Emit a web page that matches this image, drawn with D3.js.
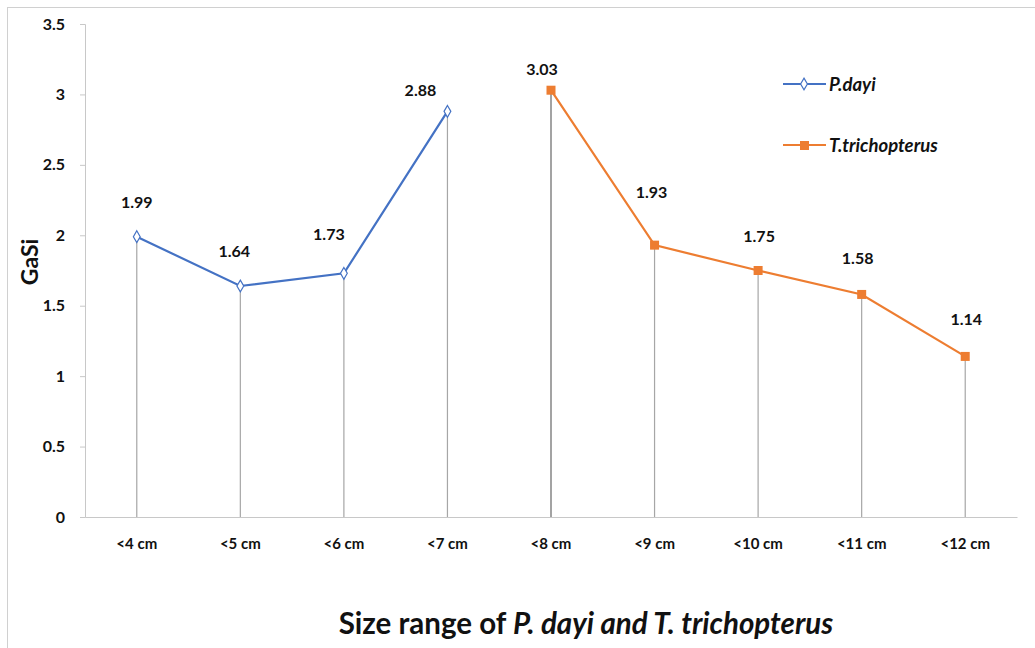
<!DOCTYPE html>
<html><head><meta charset="utf-8">
<script src="https://cdn.jsdelivr.net/npm/d3@7"></script>
<style>body{margin:0;background:#fff}text{font-family:Lato,"Open Sans",sans-serif}</style>
</head><body>
<svg id="c" width="1035" height="648"></svg>
<script>
const categories = ["<4 cm","<5 cm","<6 cm","<7 cm","<8 cm","<9 cm","<10 cm","<11 cm","<12 cm"];
const pdayiCats = ["<4 cm","<5 cm","<6 cm","<7 cm"];
const pdayiValues = [1.99,1.64,1.73,2.88];
const trichCats = ["<8 cm","<9 cm","<10 cm","<11 cm","<12 cm"];
const trichValues = [3.03,1.93,1.75,1.58,1.14];
const yTicks = [0,0.5,1,1.5,2,2.5,3,3.5];
// label nudges (px) for data labels
const pdayiLabelDx = [0,-6,-15,-27];
const pdayiLabelDy = [-29,-29,-33,-15];
const trichLabelDx = [-9,-3,1,-4,1];
const trichLabelDy = [-15,-47,-29,-30,-31];

const svg = d3.select("#c");
svg.append("rect").attr("x",7.5).attr("y",7.5).attr("width",1040).attr("height",660)
  .attr("fill","none").attr("stroke","#d0d0d0");

const m = {l:85, r:1017, t:24, b:517};
const x = d3.scaleBand().domain(categories).range([m.l,m.r]);
const y = d3.scaleLinear().domain([0,3.5]).range([m.b,m.t]);
const cx = c => x(c)+x.bandwidth()/2;

// y axis
const ya = svg.append("g").attr("transform",`translate(${m.l},0)`)
  .call(d3.axisLeft(y).tickValues(yTicks).tickSize(5).tickPadding(15).tickFormat(d=>d));
ya.select(".domain").attr("stroke","#c8c8c8");
ya.selectAll(".tick line").attr("stroke","#c8c8c8");
ya.selectAll(".tick text").attr("font-size",16).attr("font-weight","bold").attr("fill","#111")
  .style("font-family","Lato,sans-serif");

// x axis
const xa = svg.append("g").attr("transform",`translate(0,${m.b})`)
  .call(d3.axisBottom(x).tickSize(0).tickPadding(21));
xa.select(".domain").attr("stroke","#c8c8c8");
xa.selectAll(".tick text").attr("font-size",15).attr("font-weight","bold").attr("fill","#111")
  .style("font-family","Lato,sans-serif");

// drop lines
const allPts = pdayiCats.map((c,i)=>({c,v:pdayiValues[i]})).concat(trichCats.map((c,i)=>({c,v:trichValues[i]})));
svg.append("g").selectAll("line").data(allPts).join("line")
  .attr("x1",d=>cx(d.c)).attr("x2",d=>cx(d.c)).attr("y1",d=>y(d.v)).attr("y2",y(0))
  .attr("stroke",(d,i)=>i===4?"#666":"#a6a6a6").attr("stroke-width",1.2);

const line = d3.line().x(d=>cx(d.c)).y(d=>y(d.v));
const blue = "#4472C4", orange = "#ED7D31";
const pd = pdayiCats.map((c,i)=>({c,v:pdayiValues[i]}));
const tr = trichCats.map((c,i)=>({c,v:trichValues[i]}));
svg.append("path").datum(pd).attr("d",line).attr("fill","none").attr("stroke",blue).attr("stroke-width",2.2);
svg.append("path").datum(tr).attr("d",line).attr("fill","none").attr("stroke",orange).attr("stroke-width",2.2);

const diamond = d3.symbol().type(d3.symbolDiamond).size(40);
svg.append("g").selectAll("path").data(pd).join("path")
  .attr("d",diamond).attr("transform",d=>`translate(${cx(d.c)},${y(d.v)})`)
  .attr("fill","#fff").attr("stroke",blue).attr("stroke-width",1.2);
svg.append("g").selectAll("rect").data(tr).join("rect")
  .attr("x",d=>cx(d.c)-4.5).attr("y",d=>y(d.v)-4.5).attr("width",9).attr("height",9)
  .attr("fill",orange);

// data labels
svg.append("g").selectAll("text").data(pd).join("text")
  .attr("x",(d,i)=>cx(d.c)+pdayiLabelDx[i]).attr("y",(d,i)=>y(d.v)+pdayiLabelDy[i])
  .attr("text-anchor","middle").attr("font-size",16).attr("font-weight","bold").attr("fill","#111")
  .text(d=>d.v.toFixed(2));
svg.append("g").selectAll("text").data(tr).join("text")
  .attr("x",(d,i)=>cx(d.c)+trichLabelDx[i]).attr("y",(d,i)=>y(d.v)+trichLabelDy[i])
  .attr("text-anchor","middle").attr("font-size",16).attr("font-weight","bold").attr("fill","#111")
  .text(d=>d.v.toFixed(2));

// legend
const lg = svg.append("g");
lg.append("line").attr("x1",783).attr("x2",826).attr("y1",84).attr("y2",84).attr("stroke",blue).attr("stroke-width",2);
lg.append("path").attr("d",diamond).attr("transform","translate(804,84)").attr("fill","#fff").attr("stroke",blue).attr("stroke-width",1.2);
lg.append("text").attr("x",829).attr("y",90.5).attr("font-size",18.5).attr("font-weight","bold").attr("font-style","italic").attr("fill","#111").text("P.dayi");
lg.append("line").attr("x1",783).attr("x2",826).attr("y1",145).attr("y2",145).attr("stroke",orange).attr("stroke-width",2);
lg.append("rect").attr("x",800).attr("y",141).attr("width",9).attr("height",9).attr("fill",orange);
lg.append("text").attr("x",829).attr("y",151.5).attr("font-size",18.5).attr("font-weight","bold").attr("font-style","italic").attr("fill","#111").text("T.trichopterus");

// axis titles
svg.append("text").attr("transform","translate(38,262) rotate(-90)").attr("text-anchor","middle")
  .attr("font-size",23).attr("font-weight","bold").attr("fill","#111").text("GaSi");
const t = svg.append("text").attr("x",586).attr("y",634).attr("text-anchor","middle")
  .attr("font-size",29.5).attr("font-weight","bold").attr("fill","#111");
t.append("tspan").text("Size range of ");
t.append("tspan").attr("font-style","italic").text("P. dayi and T. trichopterus");
</script>
</body></html>
